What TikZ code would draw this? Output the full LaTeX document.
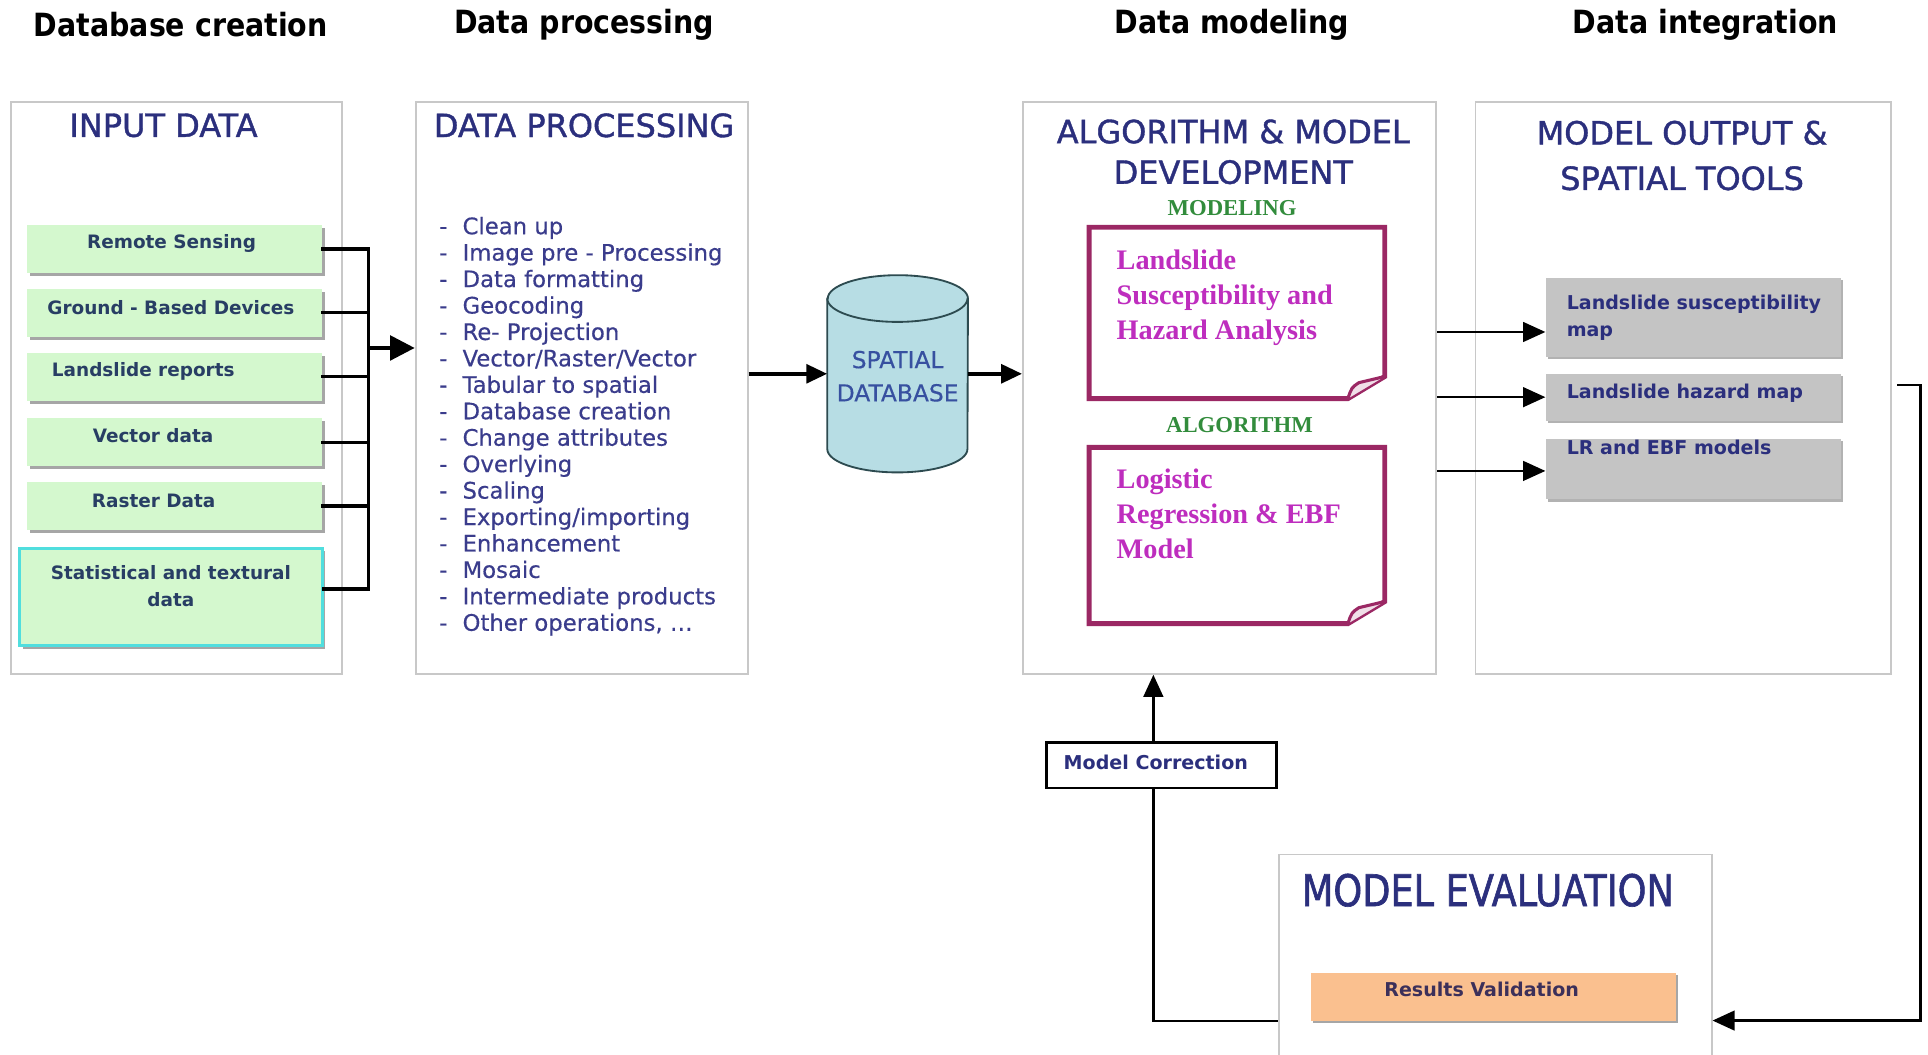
\documentclass[tikz,border=0pt]{standalone}
\usepackage{fontspec}
\setmainfont{DejaVu Sans}
\newfontfamily\hdfont[FakeStretch=0.89]{DejaVu Sans}
\newfontfamily\ttlfont[FakeBold=1.2]{DejaVu Sans}
\newfontfamily\evfont[FakeStretch=0.84,FakeBold=1.4]{DejaVu Sans}
\newfontfamily\lstfont[FakeBold=0.4]{DejaVu Sans}
\newfontfamily\serfont{Liberation Serif}
\usetikzlibrary{arrows.meta,shadows}

\definecolor{navy}{RGB}{43,47,125}
\definecolor{listblue}{RGB}{58,60,140}
\definecolor{boxtext}{RGB}{40,62,100}
\definecolor{greenfill}{RGB}{212,248,206}
\definecolor{cyanline}{RGB}{80,222,222}
\definecolor{greyfill}{RGB}{196,196,196}
\definecolor{orangefill}{RGB}{250,192,143}
\definecolor{dbfill}{RGB}{183,221,228}
\definecolor{dbline}{RGB}{45,75,80}
\definecolor{dbtext}{RGB}{55,80,160}
\definecolor{noteline}{RGB}{155,40,100}
\definecolor{notetext}{RGB}{190,45,190}
\definecolor{labgreen}{RGB}{50,140,60}
\definecolor{panelline}{RGB}{200,200,200}

\begin{document}
\begin{tikzpicture}[x=1pt,y=1pt,
  hdr/.style={font=\hdfont\bfseries\fontsize{26}{30}\selectfont, text=black, inner sep=0pt},
  panel/.style={draw=panelline, line width=1.5pt, fill=white, inner sep=0pt},
  ptitle/.style={font=\ttlfont\fontsize{26}{33}\selectfont, text=navy, align=center, inner sep=0pt},
  gbox/.style={fill=greenfill, minimum width=240pt, minimum height=39pt, inner sep=0pt,
    drop shadow={shadow xshift=2.5pt, shadow yshift=-2.5pt, fill=gray!70, opacity=1}},
  gtext/.style={font=\bfseries\fontsize{15}{19}\selectfont, text=boxtext, align=center, inner sep=0pt},
  listtxt/.style={font=\lstfont\fontsize{18.5}{21.5}\selectfont, text=listblue, inner sep=0pt, anchor=base west},
  greybox/.style={fill=greyfill, minimum width=240pt, inner sep=0pt,
    drop shadow={shadow xshift=2pt, shadow yshift=-2pt, fill=gray!60, opacity=1}},
  greytext/.style={font=\bfseries\fontsize{15.5}{22}\selectfont, text=navy, align=left, inner sep=0pt},
  notebox/.style={minimum width=240pt, inner sep=0pt},
  notetxt/.style={font=\serfont\bfseries\fontsize{23}{28.5}\selectfont, text=notetext, align=left, inner sep=0pt, anchor=north west},
  seclabel/.style={font=\serfont\bfseries\fontsize{18.5}{22}\selectfont, text=labgreen, inner sep=0pt},
  buslink/.style={line width=2.5pt, line cap=rect},
  bigarrow/.style={line width=3pt, -{Triangle[length=20pt,width=20pt]}},
  midarrow/.style={line width=3.5pt, -{Triangle[length=17pt,width=15pt]}},
  thinarrow/.style={line width=1.6pt, -{Triangle[length=18pt,width=16pt]}}
]
\path[use as bounding box] (0,0) rectangle (1568,-858);
\clip (0,0) rectangle (1568,-858);
\fill[white] (0,0) rectangle (1568,-858);

% stage headings
\node[hdr] (h1) at (147,-20) {Database creation};
\node[hdr] (h2) at (475,-20) {Data processing};
\node[hdr] (h3) at (1002,-20) {Data modeling};
\node[hdr] (h4) at (1387,-20) {Data integration};

% stage panels
\node[panel, minimum width=269pt, minimum height=465pt] (inbox) at (143.5,-315.5) {};
\node[panel, minimum width=270pt, minimum height=465pt] (procbox) at (473,-315.5) {};
\node[panel, minimum width=336pt, minimum height=465pt] (algbox) at (1000,-315.5) {};
\node[panel, minimum width=338pt, minimum height=465pt] (outbox) at (1369,-315.5) {};
\node[panel, minimum width=352pt, minimum height=185pt] (evalbox) at (1216,-787.5) {};

% panel titles
\node[ptitle] (t1) at (133,-102) {INPUT DATA};
\node[ptitle] (t2) at (475,-102) {DATA PROCESSING};
\node[ptitle] (t3) at (1003,-123.5) {ALGORITHM \& MODEL\\DEVELOPMENT};
\node[ptitle, font=\ttlfont\fontsize{26}{37}\selectfont] (t4) at (1368,-126.5) {MODEL OUTPUT \&\\SPATIAL TOOLS};
\node[ptitle, font=\evfont\fontsize{35.5}{40}\selectfont] (t5) at (1210,-724) {MODEL EVALUATION};

% input data sources
\node[gbox] (rs) at (142,-202.5) {};
\node[gbox] (gb) at (142,-254.5) {};
\node[gbox] (lr) at (142,-306.5) {};
\node[gbox] (vd) at (142,-359.5) {};
\node[gbox] (ra) at (142,-411.5) {};
\node[gbox, draw=cyanline, line width=2.5pt, minimum width=246pt, minimum height=79pt] (st) at (139,-485.5) {};
\node[gtext] (rsl) at (139.5,-198) {Remote Sensing};
\node[gtext] (gbl) at (139,-250) {Ground - Based Devices};
\node[gtext] (lrl) at (116.5,-302) {Landslide reports};
\node[gtext] (vdl) at (124.5,-354) {Vector data};
\node[gtext] (ral) at (125,-407) {Raster Data};
\node[gtext, font=\bfseries\fontsize{15}{22}\selectfont] (stl) at (139,-477) {Statistical and textural\\data};

% collector bus into processing
\coordinate (bus) at (300,-283);
\draw[buslink] (rs.east) -- (rs.east -| bus);
\draw[buslink] (gb.east) -- (gb.east -| bus);
\draw[buslink] (lr.east) -- (lr.east -| bus);
\draw[buslink] (vd.east) -- (vd.east -| bus);
\draw[buslink] (ra.east) -- (ra.east -| bus);
\draw[buslink] ([yshift=6.5pt]st.east) -- ([yshift=6.5pt]st.east -| bus);
\draw[buslink] (rs.east -| bus) -- ([yshift=6.5pt]st.east -| bus);
\draw[bigarrow] (bus) -- (bus -| procbox.west);

% processing operations
\foreach \op [count=\i] in {{Clean up},{Image pre - Processing},{Data formatting},{Geocoding},
  {Re- Projection},{Vector/Raster/Vector},{Tabular to spatial},{Database creation},
  {Change attributes},{Overlying},{Scaling},{Exporting/importing},{Enhancement},
  {Mosaic},{Intermediate products},{Other operations, \ldots}}
  \node[listtxt] (op\i) at (357,{-190.5-21.5*(\i-1)}) {\makebox[19pt][l]{-}\op};

% spatial database cylinder
\node[minimum width=114pt, minimum height=160pt, inner sep=0pt] (db) at (730,-304) {};
\draw[dbline, line width=1.5pt, fill=dbfill]
  ([yshift=-19pt]db.north west) -- ([yshift=19pt]db.south west)
  arc[start angle=180, end angle=360, x radius=57, y radius=19]
  -- ([yshift=-19pt]db.north east)
  arc[start angle=0, end angle=180, x radius=57, y radius=19] -- cycle;
\draw[dbline, line width=1.5pt] ([yshift=-19pt]db.north west)
  arc[start angle=180, end angle=360, x radius=57, y radius=19];
\node[font=\lstfont\fontsize{19}{27}\selectfont, text=dbtext, align=center, inner sep=0pt] (dbl) at (730,-306) {SPATIAL\\DATABASE};

\draw[midarrow] (procbox.east |- db.center) -- (db.west);
\draw[midarrow] (db.east) -- (db.east -| algbox.west);

% modeling and algorithm notes
\node[seclabel] (modl) at (1002,-169) {MODELING};
\node[notebox, minimum height=139pt] (n1) at (1006,-254.5) {};
\node[seclabel] (algl) at (1008,-346) {ALGORITHM};
\node[notebox, minimum height=143pt] (n2) at (1006,-435.5) {};
\foreach \n in {n1,n2}{
  \draw[noteline, line width=4pt, line join=miter, fill=white]
    (\n.north west) -- (\n.north east) -- ([yshift=18pt]\n.south east)
    -- ([xshift=-30pt]\n.south east) -- (\n.south west) -- cycle;
  \draw[noteline, line width=2.5pt, line join=round, fill=noteline!15]
    ([xshift=-30pt]\n.south east) .. controls ([xshift=-27pt,yshift=9pt]\n.south east)
    .. ([xshift=-21pt,yshift=13pt]\n.south east) -- ([yshift=18pt]\n.south east);
}
\node[notetxt] (n1t) at (908,-203) {Landslide\\Susceptibility and\\Hazard Analysis};
\node[notetxt] (n2t) at (908,-381) {Logistic\\Regression \& EBF\\Model};

% model outputs
\node[greybox, minimum height=64pt] (g1) at (1377,-258) {};
\node[greybox, minimum height=38pt] (g2) at (1377,-323) {};
\node[greybox, minimum height=49pt] (g3) at (1377,-381.5) {};
\node[greytext, anchor=north west] (g1t) at (1274,-240) {Landslide susceptibility\\map};
\node[greytext, anchor=west] (g2t) at (1274,-320) {Landslide hazard map};
\node[greytext, anchor=west] (g3t) at (1274,-364) {LR and EBF models};

\draw[thinarrow] ([yshift=-12pt]g1.west -| algbox.east) -- ([yshift=-12pt]g1.west);
\draw[thinarrow] (g2.west -| algbox.east) -- (g2.west);
\draw[thinarrow] ([yshift=-1.5pt]g3.west -| algbox.east) -- ([yshift=-1.5pt]g3.west);

% evaluation
\node[fill=orangefill, minimum width=297pt, minimum height=39pt, inner sep=0pt,
  drop shadow={shadow xshift=2pt, shadow yshift=-2pt, fill=gray!70, opacity=1}] (rv) at (1214.5,-810.5) {};
\node[gtext, font=\bfseries\fontsize{15.5}{19}\selectfont, text={rgb,255:red,60;green,48;blue,90}] (rvl) at (1205,-805) {Results Validation};

% feedback loop
\coordinate (oexit) at (1543,-313);
\coordinate (loopc) at (1562,-830);
\coordinate (retx) at (938,-700);
\draw[thinarrow, line width=2pt] (oexit) -- (oexit -| loopc) -- (loopc) -- (loopc -| evalbox.east);
\draw[thinarrow, line width=2pt] (rv.south -| evalbox.west) -- (rv.south -| retx) -- (retx |- algbox.south);
\node[draw=black, line width=2pt, fill=white, minimum width=187pt, minimum height=37pt, inner sep=0pt] (mc) at (944.5,-622.5) {};
\node[gtext, font=\bfseries\fontsize{15.5}{19}\selectfont, text=navy] (mcl) at (940,-620) {Model Correction};
\end{tikzpicture}
\end{document}
